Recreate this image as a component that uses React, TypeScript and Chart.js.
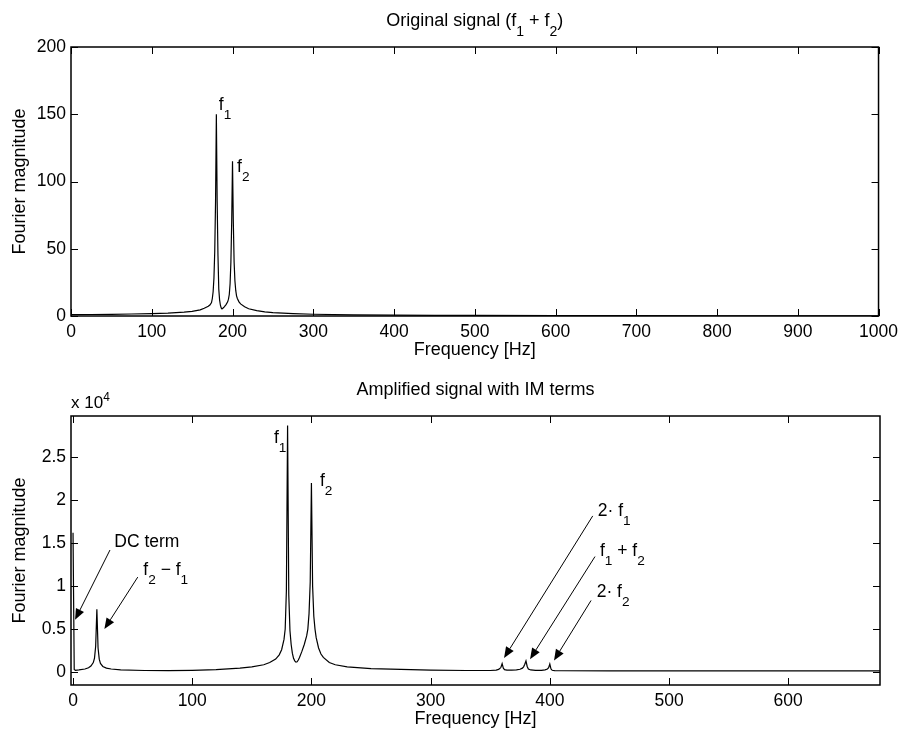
import React, { useEffect, useRef } from "react";
import { Chart, registerables } from "chart.js";

Chart.register(...registerables);

const FONT = '"Liberation Sans", Arial, Helvetica, sans-serif';

// ---------- Top panel: original signal ----------
const topFreq = [
  0, 25, 50, 75, 100, 120, 140, 150, 160, 165, 170, 172, 174, 175, 176, 177, 178, 179, 180,
  181, 182, 183, 184, 185, 186, 187, 188, 189, 190, 192, 194, 195, 196, 197, 198, 199, 200,
  201, 202, 203, 204, 205, 206, 208, 210, 215, 220, 230, 240, 250, 275, 300, 350, 400, 450,
  500, 600, 700, 800, 900, 1000,
];
const topMag = [
  1.0, 1.1, 1.25, 1.5, 1.8, 2.2, 2.9, 3.4, 4.6, 5.8, 7.2, 8.2, 10, 13, 18, 28, 48, 85, 150,
  85, 45, 20, 12, 8, 6, 5.3, 5.7, 6.3, 7, 8.5, 10.5, 12.5, 16, 24, 40, 70, 115,
  70, 40, 26, 19, 15, 13, 10.5, 9, 6.8, 5.4, 4, 3.1, 2.5, 1.8, 1.3, 0.85, 0.6, 0.5,
  0.4, 0.3, 0.25, 0.2, 0.15, 0.1,
];
const topXTicks = [0, 100, 200, 300, 400, 500, 600, 700, 800, 900, 1000];
const topYTicks = [0, 50, 100, 150, 200];

// ---------- Bottom panel: amplified signal (values in units of 10^4) ----------
const botFreq = [
  0, 1, 2, 5, 10, 13, 15, 17, 18, 19, 20, 21, 22, 23, 25, 28, 32, 40, 60, 80, 100, 120,
  140, 150, 160, 165, 170, 173, 175, 177, 178, 179, 180, 181, 182, 183, 184, 185, 186,
  187, 188, 189, 190, 192, 194, 196, 197, 198, 199, 200, 201, 202, 203, 204, 206, 208,
  210, 215, 220, 230, 250, 275, 300, 330, 350, 355, 357, 358, 359, 360, 361, 362, 364,
  368, 372, 375, 377, 378, 379, 380, 381, 382, 384, 388, 393, 396, 398, 399, 400, 401,
  402, 404, 410, 450, 500, 600, 677,
];
const botMag = [
  1.62, 0.03, 0.02, 0.025, 0.035, 0.05, 0.07, 0.11, 0.16, 0.3, 0.73, 0.28, 0.15, 0.1,
  0.065, 0.045, 0.035, 0.025, 0.018, 0.017, 0.02, 0.028,
  0.045, 0.06, 0.085, 0.11, 0.15, 0.2, 0.26, 0.38, 0.5, 0.95, 2.87, 0.9, 0.48, 0.32, 0.22,
  0.16, 0.13,
  0.115, 0.12, 0.14, 0.17, 0.24, 0.32, 0.42, 0.5, 0.68, 1.05, 2.2, 1.0, 0.65, 0.5, 0.4,
  0.28, 0.21,
  0.17, 0.11, 0.085, 0.06, 0.04, 0.03, 0.022, 0.018, 0.018, 0.022, 0.03, 0.04, 0.055,
  0.097, 0.045, 0.028, 0.022,
  0.022, 0.026, 0.032, 0.045, 0.06, 0.09, 0.13, 0.065, 0.035, 0.024, 0.02, 0.02, 0.025,
  0.035, 0.05, 0.093, 0.035,
  0.02, 0.016, 0.015, 0.014, 0.014, 0.014, 0.014,
];
const botXTicks = [0, 100, 200, 300, 400, 500, 600];
const botYTicks = [0, 0.5, 1, 1.5, 2, 2.5];

type Part = [string, number]; // 0 normal, 1 subscript, 2 superscript
type TextItem = { x: number; y: number; parts: Part[] };
type Arrow = { from: [number, number]; to: [number, number] };

function partFont(size: number, kind: number) {
  const s = kind === 0 ? size : kind === 1 ? size * 0.78 : size * 0.7;
  return `${s}px ${FONT}`;
}

function drawRich(
  ctx: CanvasRenderingContext2D,
  parts: Part[],
  x: number,
  y: number,
  size: number,
  align: "left" | "center"
) {
  let total = 0;
  const widths = parts.map(([t, k]) => {
    ctx.font = partFont(size, k);
    const w = ctx.measureText(t).width;
    total += w;
    return w;
  });
  let cx = align === "center" ? x - total / 2 : x;
  ctx.textAlign = "left";
  ctx.textBaseline = "alphabetic";
  parts.forEach(([t, k], i) => {
    ctx.font = partFont(size, k);
    const dy = k === 1 ? size * 0.53 : k === 2 ? -size * 0.42 : 0;
    ctx.fillText(t, cx, y + dy);
    cx += widths[i];
  });
}

type PanelCfg = {
  freq: number[];
  mag: number[];
  xMin: number;
  xMax: number;
  yMin: number;
  yMax: number;
  xTicks: number[];
  yTicks: number[];
  topPad: number;
  xAxisHeight: number;
  title: Part[];
  texts: TextItem[];
  arrows: Arrow[];
  exponent: boolean;
};

function makeConfig(cfg: PanelCfg): any {
  const frame = {
    id: "matlabFrame",
    afterDraw(chart: any) {
      const { ctx, chartArea: a, scales } = chart;
      const xs = scales.x;
      const ys = scales.y;
      ctx.save();
      ctx.strokeStyle = "#000";
      ctx.fillStyle = "#000";
      ctx.setLineDash([]);
      ctx.lineWidth = 1.5;
      ctx.strokeRect(a.left, a.top, a.right - a.left, a.bottom - a.top);
      ctx.lineWidth = 1;
      const L = 7;
      ctx.beginPath();
      cfg.xTicks.forEach((v) => {
        const px = Math.round(xs.getPixelForValue(v)) + 0.5;
        ctx.moveTo(px, a.bottom);
        ctx.lineTo(px, a.bottom - L);
        ctx.moveTo(px, a.top);
        ctx.lineTo(px, a.top + L);
      });
      cfg.yTicks.forEach((v) => {
        const py = Math.round(ys.getPixelForValue(v)) + 0.5;
        ctx.moveTo(a.left, py);
        ctx.lineTo(a.left + L, py);
        ctx.moveTo(a.right, py);
        ctx.lineTo(a.right - L, py);
      });
      ctx.stroke();

      const cx = (a.left + a.right) / 2;
      const cy = (a.top + a.bottom) / 2;
      // title
      drawRich(ctx, cfg.title, cx, a.top - 21, 18, "center");
      // x axis title
      drawRich(ctx, [["Frequency [Hz]", 0]], cx, a.bottom + 39, 18, "center");
      // y axis title
      ctx.save();
      ctx.translate(25, cy);
      ctx.rotate(-Math.PI / 2);
      drawRich(ctx, [["Fourier magnitude", 0]], 0, 0, 18, "center");
      ctx.restore();
      if (cfg.exponent) {
        drawRich(ctx, [["x 10", 0], ["4", 2]], a.left, a.top - 8, 17, "left");
      }
      // annotation texts
      cfg.texts.forEach((t) => {
        drawRich(ctx, t.parts, xs.getPixelForValue(t.x), ys.getPixelForValue(t.y), 17.5, "left");
      });
      // arrows
      cfg.arrows.forEach((ar) => {
        const x1 = xs.getPixelForValue(ar.from[0]);
        const y1 = ys.getPixelForValue(ar.from[1]);
        const x2 = xs.getPixelForValue(ar.to[0]);
        const y2 = ys.getPixelForValue(ar.to[1]);
        const ang = Math.atan2(y2 - y1, x2 - x1);
        const hl = 11;
        const hw = 4.5;
        const bx = x2 - hl * Math.cos(ang);
        const by = y2 - hl * Math.sin(ang);
        ctx.lineWidth = 1;
        ctx.beginPath();
        ctx.moveTo(x1, y1);
        ctx.lineTo(bx, by);
        ctx.stroke();
        ctx.beginPath();
        ctx.moveTo(x2, y2);
        ctx.lineTo(bx - hw * Math.sin(ang), by + hw * Math.cos(ang));
        ctx.lineTo(bx + hw * Math.sin(ang), by - hw * Math.cos(ang));
        ctx.closePath();
        ctx.fill();
      });
      ctx.restore();
    },
  };

  return {
    type: "line",
    data: {
      datasets: [
        {
          data: cfg.freq.map((f, i) => ({ x: f, y: cfg.mag[i] })),
          borderColor: "#000",
          borderWidth: 1.2,
          // a (visually solid) dash pattern makes Chart.js draw every segment exactly
          borderDash: [100000, 0.0001],
          borderJoinStyle: "miter",
          pointRadius: 0,
          tension: 0,
          fill: false,
        },
      ],
    },
    options: {
      animation: false,
      responsive: false,
      maintainAspectRatio: false,
      devicePixelRatio: 1,
      layout: { padding: { top: cfg.topPad, right: 24, left: 0, bottom: 0 } },
      plugins: { legend: { display: false }, tooltip: { enabled: false }, title: { display: false } },
      scales: {
        x: {
          type: "linear",
          min: cfg.xMin,
          max: cfg.xMax,
          grid: { display: false, drawTicks: false },
          border: { display: false },
          afterBuildTicks: (s: any) => {
            s.ticks = cfg.xTicks.map((v) => ({ value: v }));
          },
          afterFit: (s: any) => {
            s.height = cfg.xAxisHeight;
          },
          ticks: {
            autoSkip: false,
            maxRotation: 0,
            minRotation: 0,
            padding: 6,
            color: "#000",
            font: { family: FONT, size: 17.5 },
            callback: (v: any) => String(v),
          },
        },
        y: {
          type: "linear",
          min: cfg.yMin,
          max: cfg.yMax,
          grid: { display: false, drawTicks: false },
          border: { display: false },
          afterBuildTicks: (s: any) => {
            s.ticks = cfg.yTicks.map((v) => ({ value: v }));
          },
          afterFit: (s: any) => {
            s.width = 71;
          },
          ticks: {
            autoSkip: false,
            padding: 5,
            color: "#000",
            font: { family: FONT, size: 17.5 },
            callback: (v: any) => String(v),
          },
        },
      },
    },
    plugins: [frame],
  };
}

const topCfg: PanelCfg = {
  freq: topFreq,
  mag: topMag,
  xMin: 0,
  xMax: 1000,
  yMin: 0,
  yMax: 200,
  xTicks: topXTicks,
  yTicks: topYTicks,
  topPad: 47,
  xAxisHeight: 51,
  title: [["Original signal (f", 0], ["1", 1], [" + f", 0], ["2", 1], [")", 0]],
  texts: [
    { x: 183, y: 153, parts: [["f", 0], ["1", 1]] },
    { x: 205.6, y: 107.3, parts: [["f", 0], ["2", 1]] },
  ],
  arrows: [],
  exponent: false,
};

const botCfg: PanelCfg = {
  freq: botFreq,
  mag: botMag,
  xMin: -1.7,
  xMax: 677,
  yMin: -0.151,
  yMax: 2.98,
  xTicks: botXTicks,
  yTicks: botYTicks,
  topPad: 49,
  xAxisHeight: 49,
  title: [["Amplified signal with IM terms", 0]],
  texts: [
    { x: 168.6, y: 2.67, parts: [["f", 0], ["1", 1]] },
    { x: 207.2, y: 2.166, parts: [["f", 0], ["2", 1]] },
    { x: 34.6, y: 1.453, parts: [["DC term", 0]] },
    { x: 59, y: 1.131, parts: [["f", 0], ["2", 1], [" \u2212 f", 0], ["1", 1]] },
    { x: 440.2, y: 1.817, parts: [["2\u00b7 f", 0], ["1", 1]] },
    { x: 442, y: 1.352, parts: [["f", 0], ["1", 1], [" + f", 0], ["2", 1]] },
    { x: 439.3, y: 0.879, parts: [["2\u00b7 f", 0], ["2", 1]] },
  ],
  arrows: [
    { from: [31, 1.42], to: [1.7, 0.608] },
    { from: [54.3, 1.105], to: [26.3, 0.5] },
    { from: [436, 1.817], to: [361.6, 0.163] },
    { from: [437.9, 1.344], to: [383.4, 0.149] },
    { from: [434.6, 0.833], to: [403.5, 0.135] },
  ],
  exponent: true,
};

function Panel({ cfg, height }: { cfg: PanelCfg; height: number }) {
  const ref = useRef<HTMLCanvasElement | null>(null);
  useEffect(() => {
    if (!ref.current) return;
    const chart = new Chart(ref.current, makeConfig(cfg));
    return () => chart.destroy();
  }, []);
  return (
    <canvas
      ref={ref}
      width={904}
      height={height}
      style={{ display: "block", width: 904, height }}
    />
  );
}

export default function App() {
  return (
    <div
      style={{
        position: "absolute",
        left: 0,
        top: 0,
        width: 904,
        height: 734,
        background: "#fff",
        overflow: "hidden",
      }}
    >
      <Panel cfg={topCfg} height={367} />
      <Panel cfg={botCfg} height={367} />
    </div>
  );
}
